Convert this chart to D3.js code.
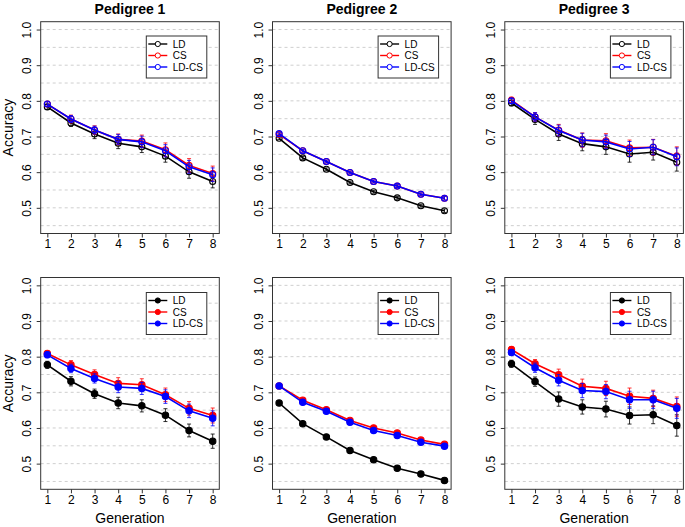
<!DOCTYPE html>
<html><head><meta charset="utf-8">
<script src="https://cdn.jsdelivr.net/npm/d3@7"></script>
<style>body{margin:0;background:#fff}svg{display:block;font-family:"Liberation Sans",Arial,Helvetica,sans-serif}</style>
</head><body><svg id="c" width="685" height="527"></svg>
<script>
const generations = [1,2,3,4,5,6,7,8];
const seriesNames = ["LD","CS","LD-CS"];
const seriesColors = ["#000000","#ff0000","#0000ff"];
const panelTitles = ["Pedigree 1","Pedigree 2","Pedigree 3"];
const yTicks = [0.5,0.6,0.7,0.8,0.9,1.0];
const yGrid = [0.45,0.5,0.55,0.6,0.65,0.7,0.75,0.8,0.85,0.9,0.95,1.0];

// top row (open symbols)
const p1_LD   = [0.783,0.738,0.707,0.681,0.671,0.645,0.601,0.574];
const p1_CS   = [0.791,0.749,0.718,0.692,0.687,0.663,0.619,0.596];
const p1_LDCS = [0.791,0.749,0.718,0.692,0.685,0.660,0.615,0.593];
const p1_LD_err   = [0.007,0.010,0.013,0.015,0.016,0.017,0.018,0.018];
const p1_CS_err   = [0.007,0.011,0.012,0.015,0.017,0.019,0.019,0.021];
const p1_LDCS_err = [0.006,0.010,0.011,0.014,0.016,0.017,0.018,0.019];

const p2_LD   = [0.695,0.640,0.608,0.571,0.545,0.528,0.506,0.492];
const p2_CS   = [0.706,0.660,0.630,0.599,0.574,0.561,0.538,0.527];
const p2_LDCS = [0.708,0.660,0.630,0.599,0.574,0.561,0.538,0.527];
const p2_LD_err   = [0.003,0.004,0.004,0.004,0.004,0.004,0.004,0.005];
const p2_CS_err   = [0.003,0.004,0.004,0.004,0.004,0.004,0.004,0.005];
const p2_LDCS_err = [0.003,0.004,0.004,0.004,0.004,0.004,0.004,0.005];

const p3_LD   = [0.794,0.748,0.707,0.680,0.671,0.651,0.656,0.628];
const p3_CS   = [0.802,0.755,0.718,0.690,0.688,0.668,0.670,0.645];
const p3_LDCS = [0.800,0.755,0.717,0.690,0.685,0.665,0.670,0.643];
const p3_LD_err   = [0.008,0.014,0.018,0.020,0.021,0.023,0.022,0.025];
const p3_CS_err   = [0.008,0.012,0.016,0.020,0.020,0.022,0.022,0.026];
const p3_LDCS_err = [0.007,0.012,0.015,0.019,0.019,0.021,0.021,0.025];

// bottom row (filled symbols)
const p4_LD   = [0.777,0.731,0.696,0.670,0.662,0.636,0.593,0.563];
const p4_CS   = [0.809,0.777,0.750,0.725,0.721,0.693,0.655,0.635];
const p4_LDCS = [0.805,0.767,0.739,0.715,0.711,0.688,0.648,0.627];
const p4_LD_err   = [0.010,0.013,0.013,0.016,0.017,0.018,0.018,0.020];
const p4_CS_err   = [0.008,0.012,0.013,0.016,0.017,0.019,0.019,0.021];
const p4_LDCS_err = [0.008,0.012,0.013,0.016,0.017,0.019,0.019,0.021];

const p5_LD   = [0.670,0.612,0.575,0.537,0.511,0.487,0.471,0.453];
const p5_CS   = [0.718,0.678,0.651,0.621,0.600,0.586,0.566,0.554];
const p5_LDCS = [0.718,0.672,0.647,0.616,0.593,0.579,0.560,0.549];
const p5_LD_err   = [0.004,0.005,0.005,0.005,0.006,0.006,0.006,0.007];
const p5_CS_err   = [0.003,0.004,0.004,0.005,0.005,0.005,0.005,0.006];
const p5_LDCS_err = [0.003,0.004,0.004,0.005,0.005,0.005,0.005,0.006];

const p6_LD   = [0.780,0.730,0.681,0.659,0.653,0.635,0.637,0.607];
const p6_CS   = [0.820,0.780,0.749,0.717,0.711,0.689,0.683,0.660];
const p6_LDCS = [0.812,0.769,0.734,0.705,0.702,0.679,0.679,0.655];
const p6_LD_err   = [0.010,0.013,0.020,0.020,0.022,0.024,0.025,0.030];
const p6_CS_err   = [0.008,0.012,0.016,0.020,0.020,0.023,0.023,0.027];
const p6_LDCS_err = [0.008,0.013,0.016,0.020,0.020,0.024,0.024,0.028];

const panels = [
  {vals:[p1_LD,p1_CS,p1_LDCS], errs:[p1_LD_err,p1_CS_err,p1_LDCS_err], filled:false},
  {vals:[p2_LD,p2_CS,p2_LDCS], errs:[p2_LD_err,p2_CS_err,p2_LDCS_err], filled:false},
  {vals:[p3_LD,p3_CS,p3_LDCS], errs:[p3_LD_err,p3_CS_err,p3_LDCS_err], filled:false},
  {vals:[p4_LD,p4_CS,p4_LDCS], errs:[p4_LD_err,p4_CS_err,p4_LDCS_err], filled:true},
  {vals:[p5_LD,p5_CS,p5_LDCS], errs:[p5_LD_err,p5_CS_err,p5_LDCS_err], filled:true},
  {vals:[p6_LD,p6_CS,p6_LDCS], errs:[p6_LD_err,p6_CS_err,p6_LDCS_err], filled:true}
];

const svg = d3.select("#c");
const colLeft = [40.7, 272.5, 504.8];
const boxW = 178.6;
const rowTop = [21.7, 277.5];
const boxH = 211.8;

panels.forEach((p, i) => {
  const col = i % 3, row = Math.floor(i / 3);
  const L = colLeft[col], T = rowTop[row];
  const x = d3.scaleLinear().domain([1 - 0.28, 8 + 0.28]).range([L, L + boxW]);
  const y = d3.scaleLinear().domain([0.45 - 0.022, 1.0 + 0.022]).range([T + boxH, T]);
  const g = svg.append("g");

  // grid
  g.selectAll(".grid").data(yGrid).enter().append("line")
    .attr("x1", L).attr("x2", L + boxW)
    .attr("y1", d => y(d)).attr("y2", d => y(d))
    .attr("stroke", "#cfcfcf").attr("stroke-width", 1).attr("stroke-dasharray", "3,3");

  // axes
  const xa = g.append("g").attr("transform", `translate(0,${T + boxH})`)
    .call(d3.axisBottom(x).tickValues(generations).tickSize(4).tickPadding(2).tickFormat(d3.format("d")));
  xa.select(".domain").remove();
  xa.selectAll("text").attr("font-size", 12).attr("fill", "#000")
    .attr("font-family", '"Liberation Sans",Arial,sans-serif');
  xa.selectAll("line").attr("stroke", "#333");

  const ya = g.append("g").attr("transform", `translate(${L},0)`)
    .call(d3.axisLeft(y).tickValues(yTicks).tickSize(4).tickFormat(d3.format(".1f")));
  ya.select(".domain").remove();
  ya.selectAll("line").attr("stroke", "#333");
  ya.selectAll("text").attr("font-size", 12).attr("fill", "#000")
    .attr("font-family", '"Liberation Sans",Arial,sans-serif')
    .attr("text-anchor", "middle").attr("dy", null)
    .attr("transform", "rotate(-90)").attr("x", 0).attr("y", -10);
  ya.selectAll(".tick text").each(function() {
    // rotate around tick position
  });

  // box
  g.append("rect").attr("x", L).attr("y", T).attr("width", boxW).attr("height", boxH)
    .attr("fill", "none").attr("stroke", "#333").attr("stroke-width", 1);

  // series
  p.vals.forEach((vals, s) => {
    const c = seriesColors[s];
    const errs = p.errs[s];
    const sg = g.append("g");
    // error bars
    vals.forEach((v, k) => {
      const xx = x(generations[k]);
      sg.append("line").attr("x1", xx).attr("x2", xx)
        .attr("y1", y(v - errs[k])).attr("y2", y(v + errs[k]))
        .attr("stroke", c).attr("stroke-width", 1).attr("opacity", 0.8);
      [v - errs[k], v + errs[k]].forEach(e => {
        sg.append("line").attr("x1", xx - 2).attr("x2", xx + 2)
          .attr("y1", y(e)).attr("y2", y(e))
          .attr("stroke", c).attr("stroke-width", 1).attr("opacity", 0.8);
      });
    });
    const line = d3.line().x((d, k) => x(generations[k])).y(d => y(d));
    sg.append("path").attr("d", line(vals)).attr("fill", "none")
      .attr("stroke", c).attr("stroke-width", 1.6);
    sg.selectAll("circle").data(vals).enter().append("circle")
      .attr("cx", (d, k) => x(generations[k])).attr("cy", d => y(d))
      .attr("r", p.filled ? 3.2 : 3)
      .attr("fill", p.filled ? c : "none")
      .attr("stroke", c).attr("stroke-width", 1.1);
  });

  // legend
  const lgR = L + boxW - 12.5, lgW = 60.5, lgT = T + (row === 0 ? 14.3 : 15), lgH = 42;
  const lgL = lgR - lgW;
  g.append("rect").attr("x", lgL).attr("y", lgT).attr("width", lgW).attr("height", lgH)
    .attr("fill", "#fff").attr("stroke", "#333").attr("stroke-width", 1);
  seriesNames.forEach((n, s) => {
    const yy = lgT + 8 + s * 11.5;
    g.append("line").attr("x1", lgL + 2).attr("x2", lgL + 21).attr("y1", yy).attr("y2", yy)
      .attr("stroke", seriesColors[s]).attr("stroke-width", 1.4);
    g.append("circle").attr("cx", lgL + 11.5).attr("cy", yy).attr("r", 2.6)
      .attr("fill", p.filled ? seriesColors[s] : "#fff").attr("stroke", seriesColors[s]).attr("stroke-width", 1);
    g.append("text").attr("x", lgL + 26.5).attr("y", yy + 3.6).attr("font-size", 10)
      .attr("fill", "#000").text(n);
  });

  if (row === 0) {
    svg.append("text").attr("x", L + boxW / 2).attr("y", 13.5).attr("text-anchor", "middle")
      .attr("font-size", 14).attr("font-weight", "bold").text(panelTitles[col]);
  }
  if (col === 0) {
    svg.append("text").attr("transform", `translate(13.3,${T + boxH / 2}) rotate(-90)`)
      .attr("text-anchor", "middle").attr("font-size", 14).text("Accuracy");
  }
  if (row === 1) {
    svg.append("text").attr("x", L + boxW / 2).attr("y", 523).attr("text-anchor", "middle")
      .attr("font-size", 14).text("Generation");
  }
});
</script></body></html>
